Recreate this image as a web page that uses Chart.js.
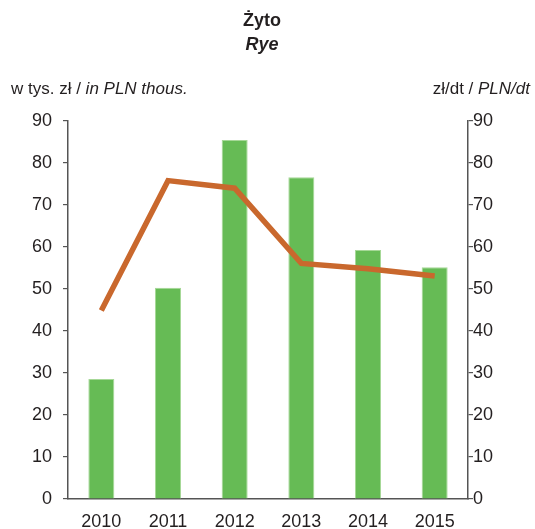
<!DOCTYPE html>
<html>
<head>
<meta charset="utf-8">
<script src="https://cdn.jsdelivr.net/npm/chart.js@4/dist/chart.umd.min.js"></script>
<style>
  html, body { margin: 0; padding: 0; background: #fff; }
  #wrap { width: 535px; height: 529px; }
</style>
</head>
<body>
<div id="wrap"><canvas id="ryeChart" width="535" height="529"></canvas></div>
<script>
// values
const years = ['2010', '2011', '2012', '2013', '2014', '2015'];
const valueThous = [28.6, 50.3, 85.5, 76.6, 59.3, 55.2];   // bars, w tys. zł
const pricePerDt = [44.9, 75.8, 74.0, 56.1, 54.8, 53.1];   // line, zł/dt
const axisTicks = [0, 10, 20, 30, 40, 50, 60, 70, 80, 90];

const FONT = '"Liberation Sans", Arial, sans-serif';
const TEXT = '#231f20';
const AXIS = '#555555';

// titles and unit labels (mixed regular / italic)
const labelsPlugin = {
  id: 'labels',
  afterDraw(chart) {
    const ctx = chart.ctx;
    ctx.save();
    ctx.fillStyle = TEXT;
    ctx.textBaseline = 'middle';
    ctx.textAlign = 'center';
    ctx.font = 'bold 18px ' + FONT;
    ctx.fillText('Żyto', 262, 21);
    ctx.font = 'italic bold 18px ' + FONT;
    ctx.fillText('Rye', 262, 45);

    ctx.textAlign = 'left';
    let x = 11;
    ctx.font = '17px ' + FONT;
    ctx.fillText('w tys. zł / ', x, 89);
    x += ctx.measureText('w tys. zł / ').width;
    ctx.font = 'italic 17px ' + FONT;
    ctx.fillText('in PLN thous.', x, 89);

    ctx.font = 'italic 17px ' + FONT;
    const r2 = 'PLN/dt';
    const w2 = ctx.measureText(r2).width;
    ctx.fillText(r2, 530 - w2, 89);
    ctx.font = '17px ' + FONT;
    const r1 = 'zł/dt / ';
    const w1 = ctx.measureText(r1).width;
    ctx.fillText(r1, 530 - w2 - w1, 89);
    ctx.restore();
  }
};

const ctx = document.getElementById('ryeChart').getContext('2d');
new Chart(ctx, {
  data: {
    labels: years,
    datasets: [
      {
        type: 'line',
        data: pricePerDt,
        yAxisID: 'y1',
        borderColor: '#c9682d',
        borderWidth: 5.5,
        pointRadius: 0,
        tension: 0,
        fill: false,
        order: 0
      },
      {
        type: 'bar',
        data: valueThous,
        yAxisID: 'y',
        backgroundColor: '#66bb55',
        borderColor: '#a6d897',
        borderWidth: 1,
        borderSkipped: 'bottom',
        barPercentage: 0.39,
        categoryPercentage: 1,
        order: 1
      }
    ]
  },
  options: {
    responsive: false,
    animation: false,
    layout: { padding: { top: 121, left: 0, right: 0, bottom: 0 } },
    plugins: {
      legend: { display: false },
      tooltip: { enabled: false },
      title: { display: false }
    },
    scales: {
      x: {
        grid: { drawOnChartArea: false, drawTicks: false },
        border: { display: true, color: AXIS, width: 1.5 },
        ticks: { color: TEXT, font: { family: FONT, size: 18 }, padding: 12, maxRotation: 0 },
        afterFit(scale) { scale.height = 30; }
      },
      y: {
        position: 'left',
        min: 0,
        max: 90,
        afterBuildTicks(scale) { scale.ticks = axisTicks.map(v => ({ value: v })); },
        grid: { drawOnChartArea: false, drawTicks: true, tickLength: 5, color: AXIS, lineWidth: 1.2 },
        border: { display: true, color: AXIS, width: 1.5 },
        ticks: { color: TEXT, font: { family: FONT, size: 18 }, padding: 11 },
        afterFit(scale) { scale.width = 68; }
      },
      y1: {
        position: 'right',
        min: 0,
        max: 90,
        afterBuildTicks(scale) { scale.ticks = axisTicks.map(v => ({ value: v })); },
        grid: { drawOnChartArea: false, drawTicks: true, tickLength: 5, color: AXIS, lineWidth: 1.2 },
        border: { display: true, color: AXIS, width: 1.5 },
        ticks: { color: TEXT, font: { family: FONT, size: 18 }, padding: 0 },
        afterFit(scale) { scale.width = 67; }
      }
    }
  },
  plugins: [labelsPlugin]
});
</script>
</body>
</html>
